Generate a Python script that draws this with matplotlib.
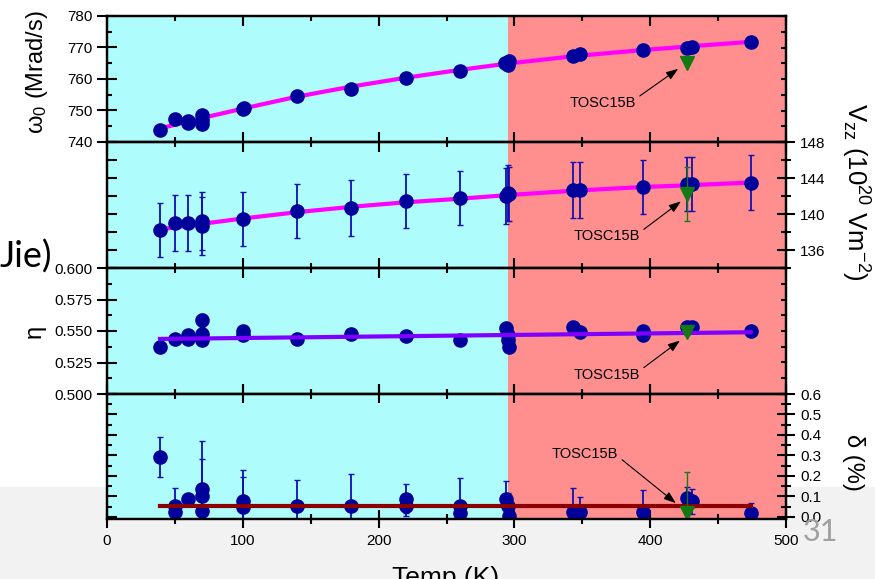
## Stacked temperature plot: w0, Vzz, eta, delta vs Temp
import numpy as np
import matplotlib.pyplot as plt
from matplotlib.ticker import MultipleLocator
from matplotlib.patches import Rectangle

plt.rcParams['font.family'] = ['Liberation Sans', 'DejaVu Sans']
plt.rcParams['mathtext.fontset'] = 'custom'
plt.rcParams['mathtext.rm'] = 'Liberation Sans'
plt.rcParams['mathtext.it'] = 'Liberation Sans:italic'
plt.rcParams['mathtext.bf'] = 'Liberation Sans:bold'

## ---- data ----
# panel 1 : omega_0 (Mrad/s)
temp_w = [39, 50, 60, 60, 70, 70, 70, 100, 101, 140, 180, 220, 260, 293, 295, 296, 343, 348, 395, 427, 431, 474]
omega0 = [743.8, 747.2, 746.8, 746.0, 748.5, 747.0, 745.7, 750.5, 750.9, 754.6, 756.7, 760.2, 762.5,
          765.0, 764.3, 765.6, 767.3, 767.8, 769.2, 769.7, 770.3, 771.8]
fit_temp_w = [39, 70, 100, 140, 180, 220, 260, 295, 345, 395, 430, 474]
fit_omega0 = [744.3, 747.6, 750.6, 754.4, 757.6, 760.4, 762.9, 764.9, 767.3, 769.2, 770.4, 771.8]

# panel 2 : Vzz (10^20 V/m^2)
temp_v = [39, 50, 60, 70, 70, 100, 140, 180, 220, 260, 294, 295, 296, 343, 348, 395, 427, 431, 474]
vzz = [138.2, 139.0, 139.0, 138.7, 139.2, 139.5, 140.3, 140.7, 141.4, 141.8, 142.0, 142.3, 142.2,
       142.7, 142.7, 143.0, 143.3, 143.3, 143.5]
vzz_err = [3.0, 3.1, 3.1, 3.2, 3.2, 3.0, 3.0, 3.1, 3.0, 3.0, 3.1, 3.1, 3.0, 3.1, 3.1, 3.0, 3.0, 3.0, 3.1]
fit_temp_v = [39, 100, 140, 180, 220, 260, 295, 345, 395, 430, 474]
fit_vzz = [138.3, 139.5, 140.2, 140.8, 141.3, 141.7, 142.1, 142.6, 143.0, 143.2, 143.5]

# panel 3 : eta
temp_eta = [39, 50, 60, 60, 70, 70, 70, 100, 100, 140, 180, 220, 260, 294, 295, 295, 296,
            343, 348, 395, 395, 427, 431, 474]
eta = [0.537, 0.544, 0.547, 0.544, 0.5585, 0.548, 0.543, 0.550, 0.547, 0.544, 0.5475, 0.546, 0.543,
       0.552, 0.547, 0.543, 0.537, 0.553, 0.549, 0.550, 0.547, 0.5535, 0.553, 0.550]
eta_err = [0.001, 0.001, 0.001, 0.001, 0.005, 0.001, 0.001, 0.001, 0.001, 0.001, 0.001, 0.001, 0.001,
           0.001, 0.001, 0.001, 0.001, 0.001, 0.001, 0.001, 0.001, 0.001, 0.001, 0.001]
fit_temp_eta = [39, 474]
fit_eta = [0.5437, 0.549]

# panel 4 : delta (%)
temp_d = [39, 50, 50, 60, 70, 70, 70, 100, 100, 140, 180, 220, 220, 260, 260, 294, 295, 296,
          343, 348, 395, 427, 431, 474]
delta = [0.294, 0.055, 0.023, 0.09, 0.135, 0.103, 0.03, 0.079, 0.047, 0.055, 0.055, 0.09, 0.055,
         0.055, 0.019, 0.087, 0.055, 0.006, 0.023, 0.023, 0.023, 0.092, 0.076, 0.02]
delta_err = [0.097, 0.085, 0.05, 0.0, 0.235, 0.18, 0.05, 0.15, 0.15, 0.125, 0.155, 0.07, 0.05,
             0.135, 0.05, 0.09, 0.06, 0.03, 0.12, 0.074, 0.11, 0.055, 0.06, 0.046]
fit_temp_d = [39, 474]
fit_delta = [0.055, 0.055]

# TOSC15B sample (green triangle)
tosc_temp = 427
tosc_omega0 = 765.0
tosc_vzz, tosc_vzz_err = 142.2, 3.0
tosc_eta, tosc_eta_err = 0.549, 0.002
tosc_delta, tosc_delta_err = 0.018, 0.2

## ---- colours ----
cold_bg = '#aefcfc'
hot_bg = '#ff8f8f'
dot_col = '#00009a'
err_col = '#1010b0'
green = '#137a13'

fig = plt.figure(figsize=(8.75, 5.79), dpi=100)
fig.patches.append(Rectangle((0, 0), 1, 92 / 579, transform=fig.transFigure,
                             color='#f2f2f2', zorder=-10))

W, H = 875.0, 579.0
edges = [16, 142, 268, 394, 519]   # panel borders in pixels from top
x0, x1 = 107, 786
axes = []
for i in range(4):
    ax = fig.add_axes([x0 / W, 1 - edges[i + 1] / H, (x1 - x0) / W, (edges[i + 1] - edges[i]) / H])
    ax.axvspan(0, 295, color=cold_bg, zorder=0, lw=0)
    ax.axvspan(295, 500, color=hot_bg, zorder=0, lw=0)
    ax.set_xlim(0, 500)
    ax.xaxis.set_major_locator(MultipleLocator(100))
    ax.xaxis.set_minor_locator(MultipleLocator(50))
    for s in ax.spines.values():
        s.set_linewidth(1.6)
    if i < 3:
        ax.tick_params(axis='x', which='major', direction='in', length=7, width=1.5,
                       top=True, bottom=True, labelbottom=False)
        ax.tick_params(axis='x', which='minor', direction='in', length=3.6, width=1.5,
                       top=True, bottom=True)
    else:
        ax.tick_params(axis='x', which='major', direction='inout', length=13.5, width=1.5,
                       top=True, bottom=True, labelsize=11, pad=4)
        ax.tick_params(axis='x', which='minor', direction='inout', length=7, width=1.5,
                       top=True, bottom=True)
    axes.append(ax)

ax1, ax2, ax3, ax4 = axes


def left_labels(ax, lo, hi, major, minor, fmt=None):
    ax.set_ylim(lo, hi)
    ax.yaxis.set_major_locator(MultipleLocator(major))
    ax.yaxis.set_minor_locator(MultipleLocator(minor))
    ax.tick_params(axis='y', which='major', direction='inout', length=14, width=1.5, labelsize=11, pad=3.6)
    ax.tick_params(axis='y', which='minor', direction='in', length=3.6, width=1.5)
    if fmt:
        ax.yaxis.set_major_formatter(fmt)
    tw = ax.twinx()
    tw.set_ylim(lo, hi)
    tw.yaxis.set_major_locator(MultipleLocator(minor))
    tw.tick_params(axis='y', which='major', direction='in', length=3.6, width=1.5, labelright=False)
    for s in tw.spines.values():
        s.set_linewidth(1.6)
    return tw


def right_labels(ax, lo, hi, major, minor, left_step, left_len, fmt=None):
    ax.set_ylim(lo, hi)
    ax.yaxis.set_major_locator(MultipleLocator(left_step))
    ax.yaxis.set_minor_locator(MultipleLocator(minor))
    ax.tick_params(axis='y', which='major', direction='in', length=left_len, width=1.5, labelleft=False)
    ax.tick_params(axis='y', which='minor', direction='in', length=3.6, width=1.5)
    tw = ax.twinx()
    tw.set_ylim(lo, hi)
    tw.yaxis.set_major_locator(MultipleLocator(major))
    tw.yaxis.set_minor_locator(MultipleLocator(minor))
    tw.tick_params(axis='y', which='major', direction='inout', length=13, width=1.5, labelsize=11, pad=3.5)
    tw.tick_params(axis='y', which='minor', direction='inout', length=7, width=1.5)
    if fmt:
        tw.yaxis.set_major_formatter(fmt)
    for s in tw.spines.values():
        s.set_linewidth(1.6)
    return tw


left_labels(ax1, 740, 780, 10, 5)
right_labels(ax2, 134, 148, 4, 2, 2, 7)
left_labels(ax3, 0.5, 0.6, 0.025, 0.0125, '{x:.3f}')
right_labels(ax4, -0.01, 0.6, 0.1, 0.05, 0.1, 7, '{x:.1f}')

arrow = dict(arrowstyle='-|>,head_length=0.7,head_width=0.25', color='black', lw=0.8,
             shrinkA=1, shrinkB=1)

## panel 1
ax1.plot(fit_temp_w, fit_omega0, color='#ff00ff', lw=3, zorder=3)
ax1.plot(temp_w, omega0, 'o', color=dot_col, ms=9.5, zorder=4)
ax1.plot(tosc_temp, tosc_omega0, 'v', color=green, ms=10, zorder=5)
ax1.annotate('TOSC15B', xy=(421.5, 763.5), xytext=(365, 752.4), fontsize=10.5, ha='center', va='center',
             arrowprops=dict(arrow, relpos=(1.0, 0.8)), zorder=6)

## panel 2
ax2.errorbar(temp_v, vzz, yerr=vzz_err, fmt='none', ecolor=err_col, elinewidth=1.3, capsize=2, zorder=3)
ax2.plot(fit_temp_v, fit_vzz, color='#ff00ff', lw=3, zorder=4)
ax2.plot(temp_v, vzz, 'o', color=dot_col, ms=9.5, zorder=4)
ax2.errorbar(tosc_temp, tosc_vzz, yerr=tosc_vzz_err, fmt='v', color=green, ms=10, ecolor=green,
             elinewidth=1, capsize=2, zorder=5)
ax2.annotate('TOSC15B', xy=(423.5, 141.5), xytext=(368, 137.5), fontsize=10.5, ha='center', va='center',
             arrowprops=dict(arrow, relpos=(1.0, 0.8)), zorder=6)

## panel 3
ax3.errorbar(temp_eta, eta, yerr=eta_err, fmt='none', ecolor=err_col, elinewidth=1.3, capsize=2, zorder=3)
ax3.plot(temp_eta, eta, 'o', color=dot_col, ms=9.5, zorder=4)
ax3.plot(fit_temp_eta, fit_eta, color='#8000ff', lw=3, zorder=4)
ax3.errorbar(tosc_temp, tosc_eta, yerr=tosc_eta_err, fmt='v', color=green, ms=10, ecolor=green,
             elinewidth=1, capsize=2, zorder=5)
ax3.annotate('TOSC15B', xy=(422.8, 0.5431), xytext=(368, 0.5153), fontsize=10.5, ha='center', va='center',
             arrowprops=dict(arrow, relpos=(1.0, 0.8)), zorder=6)

## panel 4
ax4.errorbar(temp_d, delta, yerr=delta_err, fmt='none', ecolor=err_col, elinewidth=1.3, capsize=2, zorder=3)
ax4.plot(temp_d, delta, 'o', color=dot_col, ms=9.5, zorder=4)
ax4.plot(fit_temp_d, fit_delta, color='#8b0000', lw=3, zorder=4)
ax4.errorbar(tosc_temp, tosc_delta, yerr=tosc_delta_err, fmt='v', color=green, ms=10, ecolor=green,
             elinewidth=1, capsize=2, zorder=5)
ax4.annotate('TOSC15B', xy=(419.7, 0.063), xytext=(352, 0.308), fontsize=10.5, ha='center', va='center',
             arrowprops=dict(arrow, relpos=(1.0, 0.3)), zorder=6)

## axis titles
fig.text(37 / W, 1 - 72 / H, 'ω$_0$ (Mrad/s)', rotation=90, ha='center', va='center', fontsize=17)
fig.text(35 / W, 1 - 331 / H, 'η', rotation=90, ha='center', va='center', fontsize=17)
fig.text(855 / W, 1 - 192 / H, 'V$_{\\mathrm{zz}}$ (10$^{20}$ Vm$^{-2}$)', rotation=-90,
         ha='center', va='center', fontsize=18.5)
fig.text(853 / W, 1 - 462 / H, 'δ (%)', rotation=-90, ha='center', va='center', fontsize=17)
fig.text(446 / W, 1 - 566 / H, 'Temp (K)', ha='center', va='top', fontsize=19)

## slide leftovers
fig.text(52 / W, 1 - 268 / H, 'Jie)', ha='right', va='baseline', fontsize=26, family='Lato')
fig.text(820 / W, 1 - 532 / H, '31', ha='center', va='center', fontsize=22, color='#a0a0a0', family='Lato')

plt.savefig('out.png', dpi=100)
